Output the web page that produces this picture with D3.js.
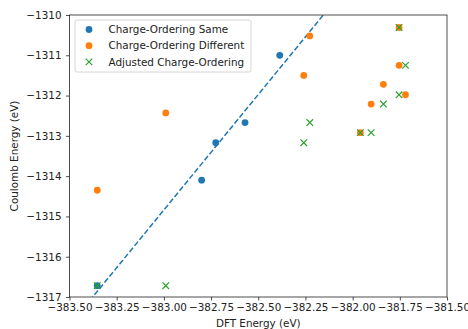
<!DOCTYPE html>
<html>
<head>
<meta charset="utf-8">
<script src="https://cdn.jsdelivr.net/npm/d3@7"></script>
<style>
  body { margin: 0; background: #fff; }
  text { font-family: "DejaVu Sans", sans-serif; }
</style>
</head>
<body>
<div id="chart"></div>
<script>
// Charge-Ordering Same (DFT energy, Coulomb energy)
var sameX = [-382.386, -382.725, -382.57, -382.80, -383.353];
var sameY = [-1311.0, -1313.17, -1312.67, -1314.10, -1316.72];

// Charge-Ordering Different
var diffX = [-382.227, -382.259, -381.754, -381.754, -381.72, -381.837, -381.902, -381.959, -382.99, -383.353];
var diffY = [-1310.52, -1311.5, -1310.31, -1311.25, -1311.98, -1311.72, -1312.21, -1312.92, -1312.43, -1314.35];

// Adjusted Charge-Ordering
var adjX = [-381.754, -381.72, -381.754, -381.837, -382.227, -382.259, -381.959, -381.902, -382.99, -383.353];
var adjY = [-1310.31, -1311.25, -1311.98, -1312.21, -1312.67, -1313.17, -1312.92, -1312.92, -1316.72, -1316.72];

// dashed fit line through the same-ordering points
var fitX = [-383.5, -381.5];
var fitSlope = 5.73;
var fitRef = [-383.377, -1317];

var xTicks = [-383.5, -383.25, -383.0, -382.75, -382.5, -382.25, -382.0, -381.75, -381.5];
var yTicks = [-1310, -1311, -1312, -1313, -1314, -1315, -1316, -1317];

var seriesNames = ["Charge-Ordering Same", "Charge-Ordering Different", "Adjusted Charge-Ordering"];
var colors = ["#1f77b4", "#ff7f0e", "#2ca02c"];

var fontSize = "10.4px";

var margin = {top: 15, right: 21, bottom: 32, left: 69.5},
    width = 468 - margin.left - margin.right,
    height = 329 - margin.top - margin.bottom;

var x = d3.scaleLinear().domain([-383.5, -381.5]).range([0, width]);
var y = d3.scaleLinear().domain([-1317, -1310]).range([height, 0]);

var svg = d3.select("#chart").append("svg")
    .attr("width", 468)
    .attr("height", 329)
  .append("g")
    .attr("transform", "translate(" + margin.left + "," + margin.top + ")");

svg.append("clipPath").attr("id", "clip")
  .append("rect").attr("width", width).attr("height", height);

var fmt = function(d) { return d3.format(".2f")(d).replace("-", "\u2212"); };
var fmtY = function(d) { return String(d).replace("-", "\u2212"); };

var xAxis = d3.axisBottom(x).tickValues(xTicks).tickFormat(fmt).tickSize(3.5).tickPadding(3.5);
var yAxis = d3.axisLeft(y).tickValues(yTicks).tickFormat(fmtY).tickSize(3.5).tickPadding(4.5);

var gx = svg.append("g")
    .attr("transform", "translate(0," + height + ")")
    .call(xAxis);
var gy = svg.append("g").call(yAxis);

[gx, gy].forEach(function(g) {
  g.select(".domain").remove();
  g.selectAll("text").style("font-size", fontSize).attr("fill", "#222");
  g.selectAll("line").attr("stroke", "#222").attr("stroke-width", 0.8);
});

// fit line
var fitLine = d3.line()
    .x(function(d) { return x(d); })
    .y(function(d) { return y(fitRef[1] + fitSlope * (d - fitRef[0])); });

svg.append("path")
    .datum(fitX)
    .attr("clip-path", "url(#clip)")
    .attr("fill", "none")
    .attr("stroke", colors[0])
    .attr("stroke-width", 1.5)
    .attr("stroke-dasharray", "5.5,2.4")
    .attr("d", fitLine);

svg.append("g").selectAll("circle")
    .data(d3.zip(sameX, sameY))
    .enter().append("circle")
    .attr("cx", function(d) { return x(d[0]); })
    .attr("cy", function(d) { return y(d[1]); })
    .attr("r", 3.4)
    .attr("fill", colors[0]);

svg.append("g").selectAll("circle")
    .data(d3.zip(diffX, diffY))
    .enter().append("circle")
    .attr("cx", function(d) { return x(d[0]); })
    .attr("cy", function(d) { return y(d[1]); })
    .attr("r", 3.4)
    .attr("fill", colors[1]);

var cross = d3.symbol().type(d3.symbolX).size(30);
svg.append("g").selectAll("path")
    .data(d3.zip(adjX, adjY))
    .enter().append("path")
    .attr("transform", function(d) { return "translate(" + x(d[0]) + "," + y(d[1]) + ")"; })
    .attr("d", cross)
    .attr("fill", "none")
    .attr("stroke", colors[2])
    .attr("stroke-width", 1.2);

// frame
svg.append("rect")
    .attr("width", width)
    .attr("height", height)
    .attr("fill", "none")
    .attr("stroke", "#222")
    .attr("stroke-width", 0.8);

// legend
var legend = svg.append("g").attr("transform", "translate(5.5,5)");
legend.append("rect")
    .attr("width", 176)
    .attr("height", 52)
    .attr("rx", 2)
    .attr("fill", "#fff")
    .attr("fill-opacity", 0.8)
    .attr("stroke", "#ccc")
    .attr("stroke-width", 0.8);

seriesNames.forEach(function(name, i) {
  var ly = 9.5 + i * 16.2;
  if (i < 2) {
    legend.append("circle").attr("cx", 14).attr("cy", ly).attr("r", 3.4).attr("fill", colors[i]);
  } else {
    legend.append("path")
      .attr("transform", "translate(14," + ly + ")")
      .attr("d", cross)
      .attr("fill", "none")
      .attr("stroke", colors[2])
      .attr("stroke-width", 1.2);
  }
  legend.append("text")
    .attr("x", 33.5)
    .attr("y", ly)
    .attr("dy", "0.35em")
    .style("font-size", fontSize)
    .attr("fill", "#222")
    .text(name);
});

svg.append("text")
    .attr("x", width / 2)
    .attr("y", height + 29.5)
    .attr("text-anchor", "middle")
    .style("font-size", fontSize)
    .attr("fill", "#222")
    .text("DFT Energy (eV)");

svg.append("text")
    .attr("transform", "rotate(-90)")
    .attr("x", -height / 2)
    .attr("y", -52)
    .attr("text-anchor", "middle")
    .style("font-size", fontSize)
    .attr("fill", "#222")
    .text("Coulomb Energy (eV)");
</script>
</body>
</html>
